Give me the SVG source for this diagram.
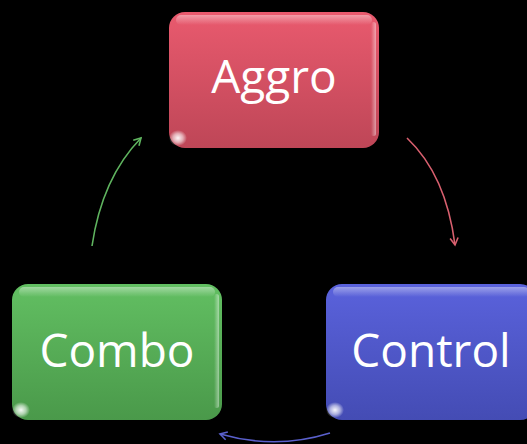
<svg xmlns="http://www.w3.org/2000/svg" width="527" height="444" viewBox="0 0 527 444">
<defs>
<linearGradient id="gRed" x1="0" y1="0" x2="0" y2="1"><stop offset="0" stop-color="#e95a6e"/><stop offset="1" stop-color="#be4657"/></linearGradient>
<linearGradient id="gGreen" x1="0" y1="0" x2="0" y2="1"><stop offset="0" stop-color="#62bf62"/><stop offset="1" stop-color="#4a994a"/></linearGradient>
<linearGradient id="gBlue" x1="0" y1="0" x2="0" y2="1"><stop offset="0" stop-color="#5a62dc"/><stop offset="1" stop-color="#444cb4"/></linearGradient>
<linearGradient id="hl" x1="0" y1="0" x2="0" y2="1"><stop offset="0" stop-color="#fff" stop-opacity="0.4"/><stop offset="1" stop-color="#fff" stop-opacity="0"/></linearGradient>
<linearGradient id="hr" x1="0" y1="0" x2="1" y2="0"><stop offset="0" stop-color="#fff" stop-opacity="0"/><stop offset="1" stop-color="#fff" stop-opacity="0.45"/></linearGradient>
<radialGradient id="spot"><stop offset="0" stop-color="#fff" stop-opacity="0.95"/><stop offset="0.55" stop-color="#fff" stop-opacity="0.55"/><stop offset="1" stop-color="#fff" stop-opacity="0"/></radialGradient>
<marker id="aRed" markerWidth="10" markerHeight="10" refX="8" refY="5" orient="auto" markerUnits="userSpaceOnUse"><path d="M1,1 L8,5 L1,9" fill="none" stroke="#d9606f" stroke-width="1.6"/></marker>
<marker id="aGreen" markerWidth="10" markerHeight="10" refX="8" refY="5" orient="auto" markerUnits="userSpaceOnUse"><path d="M1,1 L8,5 L1,9" fill="none" stroke="#5fb45f" stroke-width="1.6"/></marker>
<marker id="aBlue" markerWidth="10" markerHeight="10" refX="8" refY="5" orient="auto" markerUnits="userSpaceOnUse"><path d="M1,1 L8,5 L1,9" fill="none" stroke="#5a60cc" stroke-width="1.6"/></marker>
</defs>
<style>
.lbl{font-family:"Open Sans","Liberation Sans",sans-serif;font-size:46px;fill:#fff;text-anchor:middle}
.edge{fill:none;stroke-width:1.6}
</style>
<rect width="527" height="444" fill="#000"/>
<g id="connectors">
<path class="edge" d="M407,138 Q446,175 455,245" stroke="#d9606f" marker-end="url(#aRed)"/>
<path class="edge" d="M330,433 Q276,450 220,434" stroke="#5a60cc" marker-end="url(#aBlue)"/>
<path class="edge" d="M92,246 Q102,178 141,138" stroke="#5fb45f" marker-end="url(#aGreen)"/>
</g>
<g id="aggro">
<rect x="169" y="12" width="210" height="136" rx="16" fill="url(#gRed)"/>
<rect x="176" y="15" width="196" height="10" rx="5" fill="url(#hl)"/>
<rect x="371" y="22" width="5" height="114" rx="2.5" fill="url(#hr)"/>
<ellipse cx="178" cy="138" rx="9" ry="8" fill="url(#spot)"/>
<text class="lbl" x="274" y="93">Aggro</text>
</g>
<g id="combo">
<rect x="12" y="284" width="210" height="136" rx="16" fill="url(#gGreen)"/>
<rect x="19" y="287" width="196" height="10" rx="5" fill="url(#hl)"/>
<rect x="214" y="294" width="5" height="114" rx="2.5" fill="url(#hr)"/>
<ellipse cx="21" cy="410" rx="9" ry="8" fill="url(#spot)"/>
<text class="lbl" x="117" y="367">Combo</text>
</g>
<g id="control">
<rect x="326" y="284" width="210" height="136" rx="16" fill="url(#gBlue)"/>
<rect x="333" y="287" width="196" height="10" rx="5" fill="url(#hl)"/>
<ellipse cx="335" cy="410" rx="9" ry="8" fill="url(#spot)"/>
<text class="lbl" x="431" y="367">Control</text>
</g>
</svg>
